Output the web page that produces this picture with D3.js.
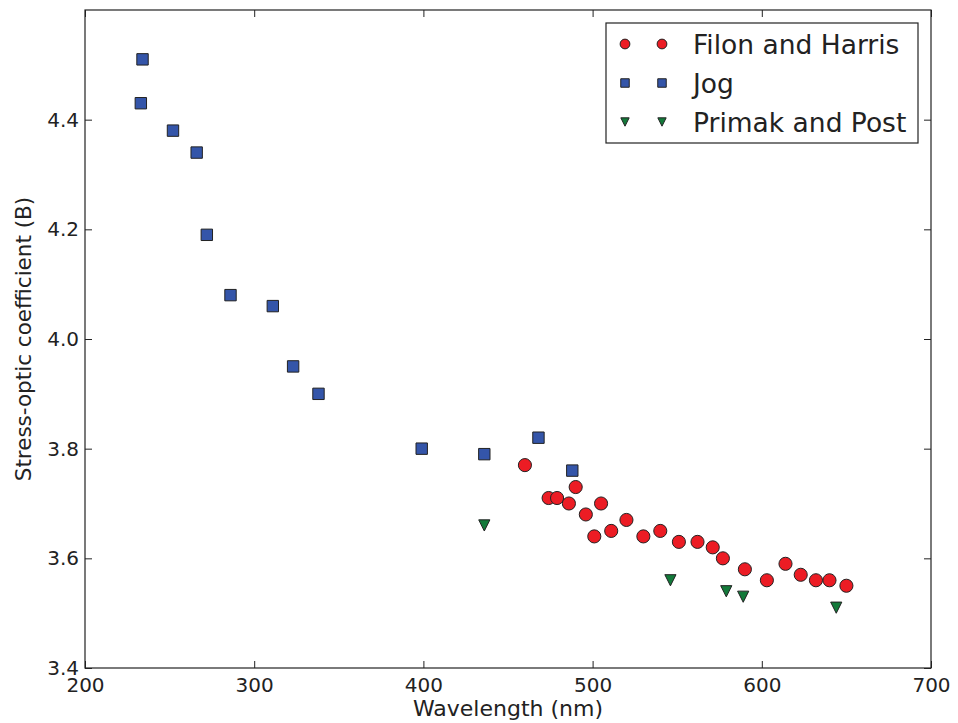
<!DOCTYPE html>
<meta charset="utf-8">
<head>
<style>
body { margin: 0; background: #fff; }
svg text { font-family: "DejaVu Sans", sans-serif; fill: #222; }
.frame { fill: none; stroke: #222; stroke-width: 1.2; }
.tick line { stroke: #222; }
</style>
</head>
<body>
<div id="chart"></div>
<script src="https://d3js.org/d3.v7.min.js"></script>
<script>

// data
var filonX = [460, 474, 479, 486, 490, 496, 501, 505, 511, 520, 530, 540, 551, 562, 571, 577, 590, 603, 614, 623, 632, 640, 650];
var filonY = [3.77, 3.71, 3.71, 3.70, 3.73, 3.68, 3.64, 3.70, 3.65, 3.67, 3.64, 3.65, 3.63, 3.63, 3.62, 3.60, 3.58, 3.56, 3.59, 3.57, 3.56, 3.56, 3.55];
var jogX = [234, 233, 252, 266, 272, 286, 311, 323, 338, 399, 436, 468, 488];
var jogY = [4.51, 4.43, 4.38, 4.34, 4.19, 4.08, 4.06, 3.95, 3.90, 3.80, 3.79, 3.82, 3.76];
var primakX = [436, 546, 579, 589, 644];
var primakY = [3.66, 3.56, 3.54, 3.53, 3.51];
var seriesNames = ["Filon and Harris", "Jog", "Primak and Post"];
var xTicks = [200, 300, 400, 500, 600, 700];
var yTicks = [3.4, 3.6, 3.8, 4.0, 4.2, 4.4];

var margin = {top: 10, right: 27, bottom: 55, left: 85},
    width = 958 - margin.left - margin.right,
    height = 723 - margin.top - margin.bottom;

var svg = d3.select("#chart")
  .append("svg")
    .attr("width", 958)
    .attr("height", 723);
var g = svg.append("g")
    .attr("transform", "translate(" + margin.left + "," + margin.top + ")");

var x = d3.scaleLinear().domain([200, 700]).range([0, width]);
var y = d3.scaleLinear().domain([3.4, 4.6]).range([height, 0]);

// matplotlib style triangle pointing down
var triangleDown = {
  draw: function(ctx, size) {
    var h = Math.sqrt(size) / 2;
    ctx.moveTo(0, h);
    ctx.lineTo(-h, -h);
    ctx.lineTo(h, -h);
    ctx.closePath();
  }
};

var series = [
  {name: seriesNames[0], xs: filonX, ys: filonY, type: d3.symbolCircle, size: 135, lsize: 75, color: "#ec1c24"},
  {name: seriesNames[1], xs: jogX, ys: jogY, type: d3.symbolSquare, size: 130, lsize: 72, color: "#3455a9"},
  {name: seriesNames[2], xs: primakX, ys: primakY, type: triangleDown, size: 125, lsize: 70, color: "#137a3a"}
];

// axes with inward ticks on all four sides
var fmt = d3.format(".1f");
g.append("g")
  .attr("transform", "translate(0," + height + ")")
  .call(d3.axisBottom(x).tickValues(xTicks).tickSizeInner(-7).tickSizeOuter(0).tickPadding(10))
  .call(function(a) { a.select(".domain").remove(); a.selectAll("text").style("font-size", "20px"); });
g.append("g")
  .call(d3.axisTop(x).tickValues(xTicks).tickSizeInner(-7).tickSizeOuter(0).tickFormat(""))
  .call(function(a) { a.select(".domain").remove(); });
g.append("g")
  .call(d3.axisLeft(y).tickValues(yTicks).tickFormat(fmt).tickSizeInner(-7).tickSizeOuter(0).tickPadding(6))
  .call(function(a) { a.select(".domain").remove(); a.selectAll("text").style("font-size", "20px"); });
g.append("g")
  .attr("transform", "translate(" + width + ",0)")
  .call(d3.axisRight(y).tickValues(yTicks).tickSizeInner(-7).tickSizeOuter(0).tickFormat(""))
  .call(function(a) { a.select(".domain").remove(); });

g.selectAll(".tick text").style("font-family", "DejaVu Sans").attr("fill", "#222");

// points
series.forEach(function(s) {
  g.append("g")
    .selectAll("path")
    .data(s.xs.map(function(v, i) { return [v, s.ys[i]]; }))
    .enter()
    .append("path")
      .attr("transform", function(d) { return "translate(" + x(d[0]) + "," + y(d[1]) + ")"; })
      .attr("d", d3.symbol().type(s.type).size(s.size))
      .attr("fill", s.color)
      .attr("stroke", "#222")
      .attr("stroke-width", 1);
});

g.append("rect")
  .attr("class", "frame")
  .attr("width", width)
  .attr("height", height);

// axis titles
svg.append("text")
  .attr("x", margin.left + width / 2)
  .attr("y", 716)
  .attr("text-anchor", "middle")
  .style("font-size", "22px")
  .text("Wavelength (nm)");
svg.append("text")
  .attr("transform", "translate(31," + (margin.top + height / 2) + ") rotate(-90)")
  .attr("text-anchor", "middle")
  .style("font-size", "21.5px")
  .text("Stress-optic coefficient (B)");

// legend
var legend = svg.append("g").attr("transform", "translate(606,23)");
legend.append("rect")
  .attr("width", 312)
  .attr("height", 120)
  .attr("fill", "#fff")
  .attr("stroke", "#222")
  .attr("stroke-width", 1.2);
series.forEach(function(s, i) {
  var row = legend.append("g").attr("transform", "translate(0," + (21 + i * 39) + ")");
  [19, 56].forEach(function(mx) {
    row.append("path")
      .attr("transform", "translate(" + mx + ",0)")
      .attr("d", d3.symbol().type(s.type).size(s.lsize))
      .attr("fill", s.color)
      .attr("stroke", "#222")
      .attr("stroke-width", 1);
  });
  row.append("text")
    .attr("x", 87)
    .attr("dy", "0.36em")
    .style("font-size", "26.5px")
    .text(s.name);
});

</script>
</body>
</html>
